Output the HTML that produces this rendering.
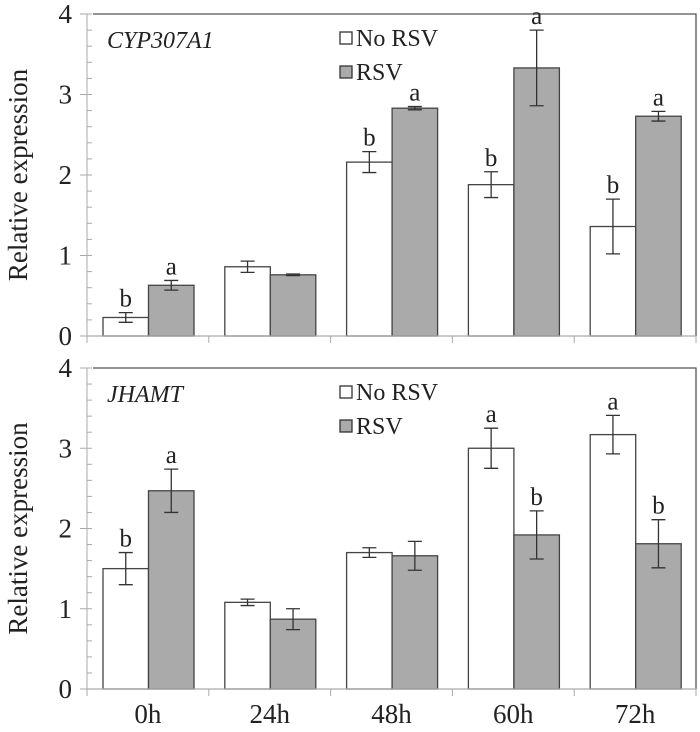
<!DOCTYPE html>
<html><head><meta charset="utf-8"><style>
html,body{margin:0;padding:0;background:#fff;}
svg, svg text{font-family:"Liberation Serif","DejaVu Serif",serif;}
</style></head><body>
<svg id="chart" width="700" height="727" viewBox="0 0 700 727"></svg>
<script>
const categories = ["0h","24h","48h","60h","72h"];
const topNoRSV = [0.23,0.86,2.16,1.88,1.36];
const topNoRSVErr = [0.06,0.07,0.13,0.16,0.34];
const topRSV = [0.63,0.76,2.83,3.33,2.73];
const topRSVErr = [0.06,0.01,0.02,0.47,0.06];
const topNoRSVLetters = ["b","","b","b","b"];
const topRSVLetters = ["a","","a","a","a"];
const botNoRSV = [1.50,1.08,1.70,3.00,3.17];
const botNoRSVErr = [0.20,0.04,0.06,0.25,0.24];
const botRSV = [2.47,0.87,1.66,1.92,1.81];
const botRSVErr = [0.27,0.13,0.18,0.30,0.30];
const botNoRSVLetters = ["b","","","a","a"];
const botRSVLetters = ["a","","","b","b"];
const yTicks = [0,1,2,3,4];

const svg = document.getElementById('chart');
const NS = 'http://www.w3.org/2000/svg';
const FF = '"Liberation Serif","DejaVu Serif",serif';
function mk(tag, attrs, parent){const e=document.createElementNS(NS,tag);for(const k in attrs)e.setAttribute(k,attrs[k]);if(tag==='text')e.setAttribute('font-family',FF);(parent||svg).appendChild(e);return e;}
const X0=87, X1=696, GW=(X1-X0)/categories.length, BW=45.5, BOFF=16;

function panel(name, yTop, yZero, noV, noE, rsV, rsE, noL, rsL, gene){
  const g = mk('g',{});
  
  
  const ys = v => yZero - v*(yZero-yTop)/4;
  for(let i=0;i<=20;i++){const y=ys(i*0.2);
    const t=mk('line',{x1:i%5===0?80:87,x2:92,y1:y,y2:y,stroke:'#aaa','stroke-width':1},g);
    }
  const ya=mk('line',{x1:X0,x2:X0,y1:yTop,y2:yZero,stroke:'#aaa','stroke-width':1},g);
  
  const fr=mk('polyline',{points:`93,${yTop} ${X1},${yTop} ${X1},${yZero}`,fill:'none',stroke:'#555','stroke-width':1.3},g);
  
  yTicks.forEach(v=>{const t=mk('text',{x:72,y:ys(v)+9,'font-size':27,'text-anchor':'end',fill:'#222'},g);t.textContent=v;
    });
  const yt=mk('text',{x:0,y:0,'font-size':27,'text-anchor':'middle',fill:'#222',transform:`translate(27,${(yTop+yZero)/2}) rotate(-90)`},g);
  yt.textContent='Relative expression';
  const gt=mk('text',{x:107,y:yTop+34,'font-size':24,'font-style':'italic',fill:'#222'},g);
  gt.textContent=gene;
  categories.forEach((c,i)=>{
    const gx=X0+i*GW;
    [[noV,noE,noL,'#fff','no-rsv'],[rsV,rsE,rsL,'#aaa','rsv']].forEach((s,j)=>{
      const v=s[0][i], e=s[1][i], bx=gx+BOFF+j*BW, cx=bx+BW/2;
      const r=mk('rect',{x:bx,y:ys(v),width:BW,height:yZero-ys(v),fill:s[3],stroke:'#444','stroke-width':1.3},g);
      
      const eb=mk('path',{d:`M${cx},${ys(v+e)}V${ys(v-e)}M${cx-7},${ys(v+e)}H${cx+7}M${cx-7},${ys(v-e)}H${cx+7}`,stroke:'#333','stroke-width':1.3,fill:'none'},g);
      
      if(s[2][i]){const t=mk('text',{x:cx,y:ys(v+e)-6,'font-size':25,'text-anchor':'middle',fill:'#222'},g);t.textContent=s[2][i];
        }
    });
  });
  const xa=mk('line',{x1:X0,x2:X1,y1:yZero,y2:yZero,stroke:'#aaa','stroke-width':1.3},g);
  
  for(let i=0;i<=categories.length;i++){const x=X0+i*GW;
    const t=mk('line',{x1:x,x2:x,y1:yZero,y2:yZero+7,stroke:'#aaa','stroke-width':1},g);
    }
  [['No RSV','#fff',yTop+17],['RSV','#aaa',yTop+51]].forEach(l=>{
    const r=mk('rect',{x:340,y:l[2]+1,width:12,height:12,fill:l[1],stroke:'#333','stroke-width':1.3},g);
    
    const t=mk('text',{x:356,y:l[2]+15,'font-size':24,fill:'#222'},g);t.textContent=l[0];
    
  });
  return g;
}
panel('panel-cyp307a1',14,336,topNoRSV,topNoRSVErr,topRSV,topRSVErr,topNoRSVLetters,topRSVLetters,'CYP307A1');
panel('panel-jhamt',368,689,botNoRSV,botNoRSVErr,botRSV,botRSVErr,botNoRSVLetters,botRSVLetters,'JHAMT');
categories.forEach((c,i)=>{
  const t=mk('text',{x:X0+(i+0.5)*GW,y:723,'font-size':27,'text-anchor':'middle',fill:'#222'});
  t.textContent=c;
  
  
});
</script>
</body></html>
